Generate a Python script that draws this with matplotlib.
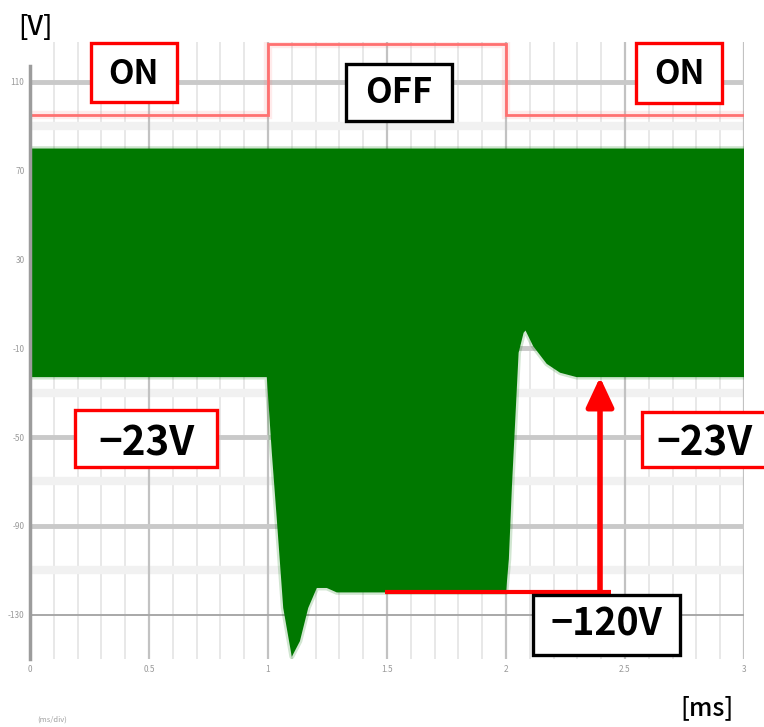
import numpy as np
import matplotlib
matplotlib.use("Agg")
import matplotlib.pyplot as plt
from matplotlib.patches import Rectangle

plt.rcParams['font.family'] = ['Noto Sans CJK JP', 'DejaVu Sans']

# ---- data ---------------------------------------------------------------
# time axis [ms]
x_ticks = [0, 0.5, 1.0, 1.5, 2.0, 2.5, 3.0]
x_tick_labels = ["0", "0.5", "1", "1.5", "2", "2.5", "3"]
x_minor = [0.1, 0.2, 0.3, 0.4, 0.6, 0.7, 0.8, 0.9, 1.1, 1.2, 1.3, 1.4,
           1.6, 1.7, 1.8, 1.9, 2.1, 2.2, 2.3, 2.4, 2.6, 2.7, 2.8, 2.9]

# voltage axis [V]
y_ticks = [110, 70, 30, -10, -50, -90, -130]
y_tick_labels = ["110", "70", "30", "-10", "-50", "-90", "-130"]
y_minor = [90, 50, 10, -30, -70, -110]

# gate drive signal (ON / OFF / ON)
gate_t = [0.0, 1.0, 1.0, 2.0, 2.0, 3.0]
gate_v = [95, 95, 127, 127, 95, 95]

# switching waveform: upper and lower envelope of the oscillation
upper_t = [0.0, 3.0]
upper_v = [80, 80]

lower_t = [0.0, 0.995, 1.016, 1.037, 1.064, 1.100, 1.134, 1.169, 1.205,
           1.247, 1.289, 1.330, 2.000, 2.012, 2.025, 2.039, 2.053, 2.074,
           2.082, 2.114, 2.171, 2.227, 2.297, 2.353, 3.0]
lower_v = [-23, -23, -57, -87, -127, -149, -142, -127, -118,
           -118, -120, -120, -120, -105, -72, -42, -12, -3,
           -2, -9, -17, -21, -23, -23, -23]

v_on = -23      # lower envelope while ON
v_off = -120    # lower envelope while OFF

# ---- figure -------------------------------------------------------------
W, H = 764, 727
fig = plt.figure(figsize=(W / 100, H / 100), dpi=100)
ax = fig.add_axes([30 / W, 1 - 659 / H, 714 / W, 617 / H])
ax.set_xlim(0, 3)
ax.set_ylim(-150, 128)

green = '#007800'

# grid
for xm in x_minor:
    ax.axvline(xm, color='#e6e6e6', lw=1.3, zorder=0)
for xt in x_ticks[1:]:
    ax.axvline(xt, color='#c2c2c2', lw=1.6, zorder=0.5)
for ym in y_minor:
    ax.axhline(ym, color='#f1f1f1', lw=6, zorder=0)
for yt in y_ticks:
    if yt == y_ticks[-1]:
        ax.axhline(yt, color='#a8a8a8', lw=1.4, zorder=0.6)
    else:
        ax.axhline(yt, color='#c9c9c9', lw=3.5, zorder=0.6)

# gate signal
ax.plot(gate_t, gate_v, color='#ff6060', lw=6, alpha=0.12, zorder=2,
        solid_joinstyle='miter')
ax.plot(gate_t, gate_v, color='#ff7070', lw=2.0, zorder=2.1,
        solid_joinstyle='miter')

# oscillation envelope
poly_t = list(upper_t) + list(lower_t[::-1])
poly_v = list(upper_v) + list(lower_v[::-1])
ax.plot(lower_t, lower_v, color=green, lw=3.5, alpha=0.18, zorder=2.5)
ax.plot(upper_t, upper_v, color=green, lw=4, alpha=0.2, zorder=2.5)
ax.fill(poly_t, poly_v, color=green, lw=0, zorder=3)

# -120 V level marker and arrow up to -23 V
ax.plot([1.49, 2.44], [v_off, v_off], color='red', lw=3, zorder=5,
        solid_capstyle='butt')
ax.annotate('', xy=(2.395, v_on), xytext=(2.395, v_off),
            arrowprops=dict(arrowstyle='-|>,head_length=0.9,head_width=0.42',
                            mutation_scale=20, color='red', lw=4,
                            shrinkA=0, shrinkB=0),
            zorder=6)

# axes styling
ax.set_xticks(x_ticks)
ax.set_xticklabels(x_tick_labels)
ax.set_yticks(y_ticks)
ax.set_yticklabels(y_tick_labels)
ax.tick_params(length=0, labelsize=6, labelcolor='#9a9a9a', pad=4)
for s in ['top', 'right', 'bottom']:
    ax.spines[s].set_visible(False)
ax.spines['left'].set_color('#9c9c9c')
ax.spines['left'].set_linewidth(2.5)
ax.spines['left'].set_bounds(-150, 117)
ax.spines['left'].set_zorder(4)

# ---- annotation layer in pixel units -----------------------------------
ov = fig.add_axes([0, 0, 1, 1], zorder=10)
ov.set_xlim(0, W)
ov.set_ylim(H, 0)
ov.axis('off')
ov.patch.set_alpha(0)


def box(x0, y0, x1, y1, edge, text, cx, base, size):
    ov.add_patch(Rectangle((x0, y0), x1 - x0, y1 - y0, facecolor='white',
                           edgecolor=edge, lw=2.4, clip_on=False))
    ov.text(cx, base, text, ha='center', va='baseline', fontsize=size,
            fontweight='bold', color='black')


box(91, 43, 177, 102, 'red', 'ON', 134, 84, 24)
box(346, 64, 452, 121, 'black', 'OFF', 399, 103, 25)
box(636, 43, 722, 103, 'red', 'ON', 679, 84, 24)
box(75, 410, 217, 467, 'red', '−23V', 146, 456, 29)
box(642, 412, 790, 467, 'red', '−23V', 704, 456, 29)
box(533, 595, 680, 655, 'black', '−120V', 606, 636, 27)

ov.text(35, 35, '[V]', ha='center', va='baseline', fontsize=19,
        fontweight='medium', color='black')
ov.text(707, 715, '[ms]', ha='center', va='baseline', fontsize=18,
        fontweight='medium', color='black')
ov.text(52, 722, '(ms/div)', ha='center', va='baseline', fontsize=5.5,
        color='#a0a0a0')

fig.savefig('out.png', dpi=100)
